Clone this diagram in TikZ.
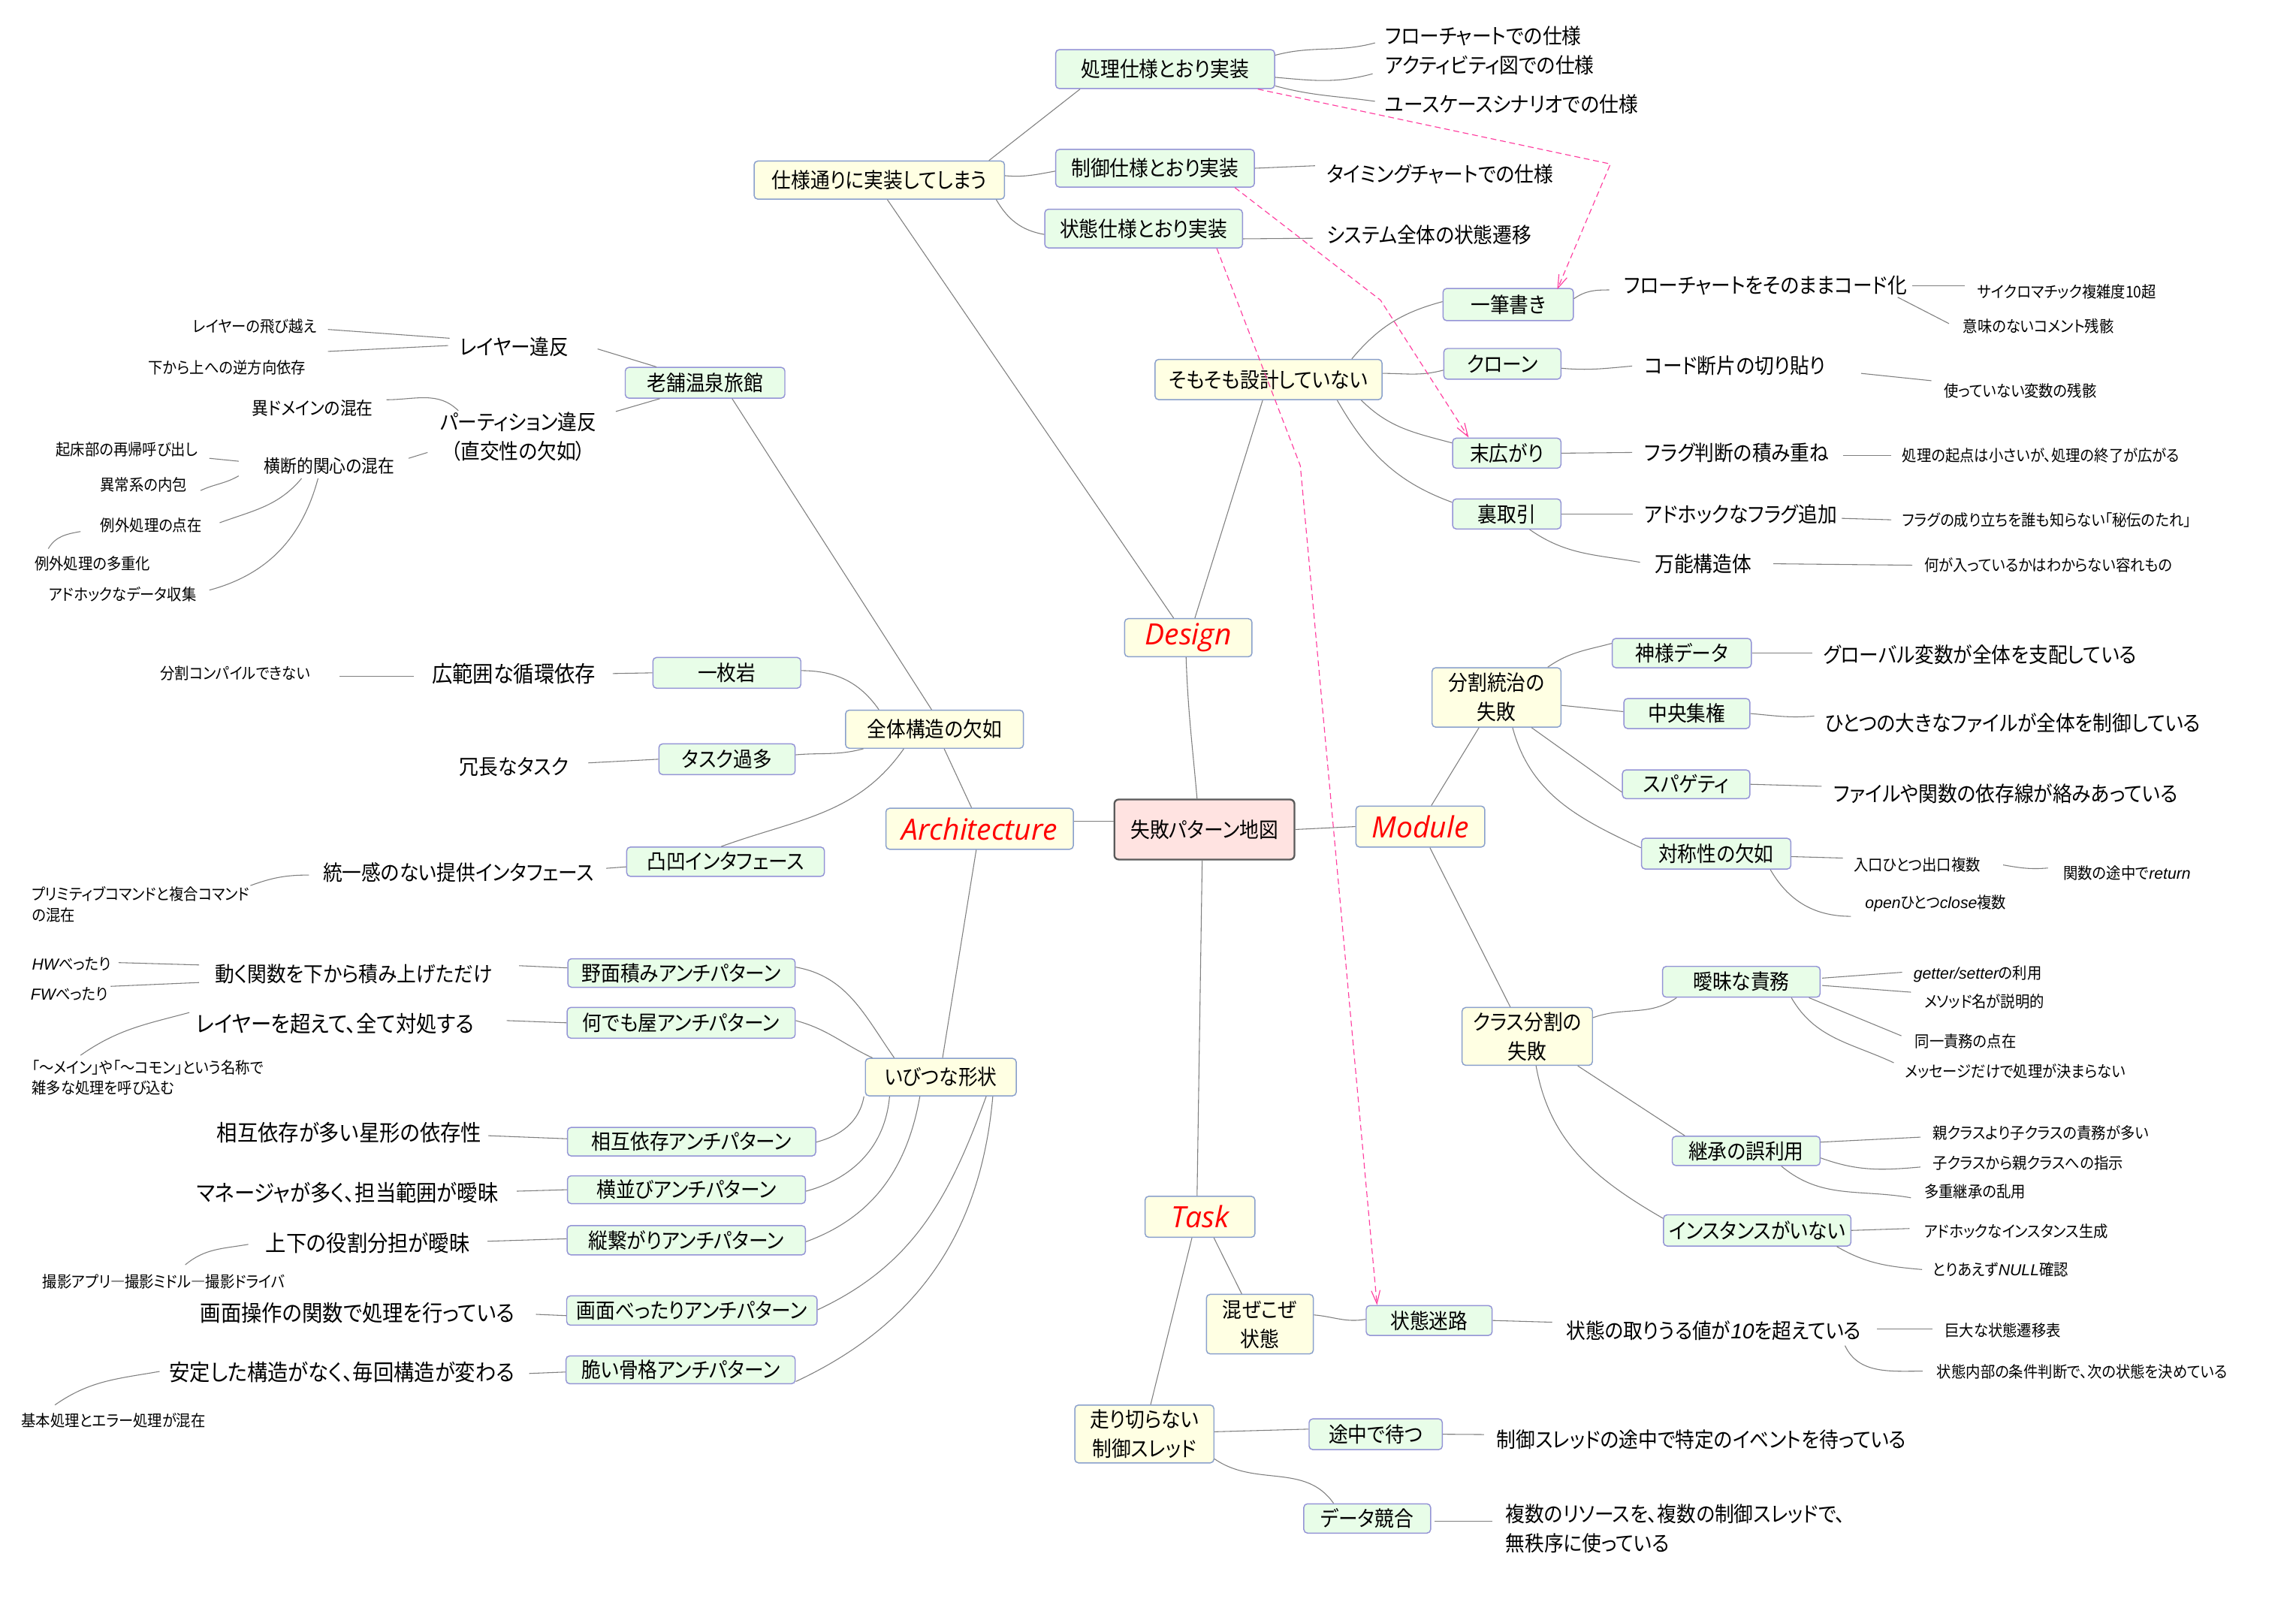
\documentclass[tikz,border=0pt]{standalone}
\usepackage{fontspec}
\setmainfont{Noto Sans CJK JP}[RawFeature=+palt, FakeStretch=0.91]
\newfontfamily\brfont{Open Sans}
\newfontfamily\latfont{Liberation Sans}
\usetikzlibrary{arrows.meta,calc}
\definecolor{gfill}{HTML}{E8FDE8}
\definecolor{gborder}{HTML}{9494D6}
\definecolor{yfill}{HTML}{FFFFE3}
\definecolor{yborder}{HTML}{8AA0CC}
\definecolor{rootfill}{HTML}{FFE3E1}
\definecolor{rootborder}{HTML}{5A5A5A}
\definecolor{linegray}{HTML}{7F7F7F}
\definecolor{pinkc}{HTML}{FF3FA0}
\newcommand\fL{\fontsize{14.5}{20}\selectfont}
\newcommand\fX{\fontsize{15.4}{20}\selectfont}
\newcommand\fM{\fontsize{12.3}{16}\selectfont}
\newcommand\fS{\fontsize{10.9}{14.2}\selectfont}
\newcommand\fB{\brfont\itshape\fontsize{20}{24}\selectfont}
\newcommand\latit[1]{{\latfont\itshape #1}}
\begin{document}
\begin{tikzpicture}[x=1pt,y=-1pt,
  conn/.style={draw=linegray, line width=0.55pt},
  wh/.style 2 args={minimum width=#1pt, minimum height=#2pt},
  gbox/.style={draw=gborder, fill=gfill, rounded corners=2.5pt, line width=0.75pt, inner sep=0pt, font=\fL, align=center},
  ybox/.style={draw=yborder, fill=yfill, rounded corners=2.5pt, line width=0.75pt, inner sep=0pt, font=\fL, align=center},
  brbox/.style={ybox, font=\fB, text=red},
  rootbox/.style={draw=rootborder, fill=rootfill, rounded corners=3pt, line width=1.2pt, inner sep=0pt, font=\fL},
  tl/.style={anchor=west, inner sep=1.5pt, font=\fL},
  tr/.style={anchor=east, inner sep=1.5pt, font=\fL},
  xr/.style={anchor=east, inner sep=1.5pt, font=\fX},
  sl/.style={anchor=west, inner sep=1.5pt, font=\fS},
  sr/.style={anchor=east, inner sep=1.5pt, font=\fS},
  mr/.style={anchor=east, inner sep=1.5pt, font=\fM},
  dep/.style={draw=pinkc, line width=0.6pt, dash pattern=on 4pt off 2.5pt, -{Straight Barb[length=9pt,width=6pt]}}
]
\fill[white] (0,0) rectangle (1568,1102);
\useasboundingbox (0,0) rectangle (1568,1102);

% ---------- boxes ----------
\node[rootbox, wh={123}{41}] (root) at (822.5,566.5) {失敗パターン地図};
\node[brbox, wh={87}{26}] (design) at (811.5,435.5) {Design};
\node[brbox, wh={128}{28}] (arch) at (669,566) {Architecture};
\node[brbox, wh={88}{28}] (mod) at (970,564.5) {Module};
\node[brbox, wh={75}{28}] (task) at (819.5,831) {Task};

\node[ybox, wh={171}{26}] (spec) at (600.5,123) {仕様通りに実装してしまう};
\node[ybox, wh={155}{27.5}] (sotomo) at (866.3,259.2) {そもそも設計していない};
\node[ybox, wh={121.5}{26}] (zentai) at (638.2,498) {全体構造の欠如};
\node[ybox, wh={103}{25.6}] (ibitsu) at (642.5,735.6) {いびつな形状};
\node[ybox, wh={88}{40.6}] (bunkatsu) at (1022,476.3) {分割統治の\\失敗};
\node[ybox, wh={89}{39.5}] (klass) at (1043,707.8) {クラス分割の\\失敗};
\node[ybox, wh={73}{40.6}] (maze) at (860.4,904.3) {混ぜこぜ\\状態};
\node[ybox, wh={95}{39.5}] (hashiri) at (781.5,979.3) {走り切らない\\制御スレッド};

\node[gbox, wh={149.5}{26.6}] (proc) at (795.7,47.2) {処理仕様とおり実装};
\node[gbox, wh={135.7}{25.7}] (ctrl) at (788.8,114.9) {制御仕様とおり実装};
\node[gbox, wh={135}{26.4}] (stat) at (781,156.1) {状態仕様とおり実装};
\node[gbox, wh={89}{22}] (hitofude) at (1030,208) {一筆書き};
\node[gbox, wh={80}{21}] (clone) at (1026,248.5) {クローン};
\node[gbox, wh={74}{20.5}] (suehiro) at (1029,309.5) {末広がり};
\node[gbox, wh={74}{20.5}] (uratori) at (1029,351) {裏取引};
\node[gbox, wh={109}{21}] (shinise) at (481.5,261.4) {老舗温泉旅館};
\node[gbox, wh={101}{21}] (ichimai) at (496.4,459.5) {一枚岩};
\node[gbox, wh={93}{21}] (taska) at (496.5,518.5) {タスク過多};
\node[gbox, wh={135}{20}] (dekoboko) at (495.5,588.5) {凸凹インタフェース};
\node[gbox, wh={155.2}{19.5}] (nozura) at (465.4,664.5) {野面積みアンチパターン};
\node[gbox, wh={155.7}{21}] (nandemo) at (465.2,698.5) {何でも屋アンチパターン};
\node[gbox, wh={169.5}{19.5}] (sougo) at (472.3,779.7) {相互依存アンチパターン};
\node[gbox, wh={162.5}{19}] (yoko) at (468.8,812.5) {横並びアンチパターン};
\node[gbox, wh={162.7}{20}] (tate) at (468.7,847) {縦繋がりアンチパターン};
\node[gbox, wh={171}{20}] (gamen) at (472.5,895) {画面べったりアンチパターン};
\node[gbox, wh={156.5}{19}] (moroi) at (464.8,935.5) {脆い骨格アンチパターン};
\node[gbox, wh={95}{20}] (kami) at (1148.5,446) {神様データ};
\node[gbox, wh={86}{20.5}] (chuo) at (1152,487.3) {中央集権};
\node[gbox, wh={87}{19.6}] (spag) at (1151.5,535.6) {スパゲティ};
\node[gbox, wh={102}{21}] (taisho) at (1172,583) {対称性の欠如};
\node[gbox, wh={107.6}{21}] (aimai) at (1189.2,670.5) {曖昧な責務};
\node[gbox, wh={101}{20}] (keisho) at (1192.5,786) {継承の誤利用};
\node[gbox, wh={128}{21.3}] (inst) at (1200,840.3) {インスタンスがいない};
\node[gbox, wh={86}{20.4}] (meiro) at (976,901.8) {状態迷路};
\node[gbox, wh={91}{21}] (tochu) at (939.5,979.5) {途中で待つ};
\node[gbox, wh={86.6}{20}] (kyogo) at (933.7,1037) {データ競合};

% ---------- texts: Design side ----------
\node[tl] (f1) at (944.2,24.7) {フローチャートでの仕様};
\node[tl] (f2) at (944.2,44.3) {アクティビティ図での仕様};
\node[tl] (f3) at (944.2,71.4) {ユースケースシナリオでの仕様};
\node[tl] (f4) at (904.3,119) {タイミングチャートでの仕様};
\node[tl] (f5) at (904.3,160.3) {システム全体の状態遷移};
\node[tl] (f6) at (1107.5,195) {フローチャートをそのままコード化};
\node[sl] (f7) at (1349,199) {サイクロマチック複雑度10超};
\node[sl] (f8) at (1339,223) {意味のないコメント残骸};
\node[tl] (f9) at (1121.5,249.6) {コード断片の切り貼り};
\node[sl] (f10) at (1326,266.7) {使っていない変数の残骸};
\node[tl] (f11) at (1121.5,309) {フラグ判断の積み重ね};
\node[sl] (f12) at (1297.5,311) {処理の起点は小さいが、処理の終了が広がる};
\node[tl] (f13) at (1121.5,351.4) {アドホックなフラグ追加};
\node[sl] (f14) at (1297.5,355) {フラグの成り立ちを誰も知らない「秘伝のたれ」};
\node[tl] (f15) at (1128.5,385) {万能構造体};
\node[sl] (f16) at (1312.5,386) {何が入っているかはわからない容れもの};

% ---------- texts: Module side ----------
\node[tl] (m1) at (1243.5,447) {グローバル変数が全体を支配している};
\node[tl] (m2) at (1244.5,494) {ひとつの大きなファイルが全体を制御している};
\node[tl] (m3) at (1250.5,542) {ファイルや関数の依存線が絡みあっている};
\node[sl] (m4) at (1264.5,590.7) {入口ひとつ出口複数};
\node[sl] (m5) at (1407.5,596) {関数の途中で\latit{return}};
\node[sl] (m6) at (1272.1,617) {\latit{open}ひとつ\latit{close}複数};
\node[sl] (m7) at (1305.1,665) {\latit{getter/setter}の利用};
\node[sl] (m8) at (1312.5,684) {メソッド名が説明的};
\node[sl] (m9) at (1306.1,711) {同一責務の点在};
\node[sl] (m10) at (1299.3,731.8) {メッセージだけで処理が決まらない};
\node[sl] (m11) at (1318.3,773.5) {親クラスより子クラスの責務が多い};
\node[sl] (m12) at (1318.3,794) {子クラスから親クラスへの指示};
\node[sl] (m13) at (1312.5,813.8) {多重継承の乱用};
\node[sl] (m14) at (1312.5,841) {アドホックなインスタンス生成};
\node[sl] (m15) at (1318.3,867) {とりあえず\latit{NULL}確認};

% ---------- texts: Task side ----------
\node[tl] (t1) at (1068,908.7) {状態の取りうる値が\latit{10}を超えている};
\node[sl] (t2) at (1326.5,908.7) {巨大な状態遷移表};
\node[sl] (t3) at (1321.1,937) {状態内部の条件判断で、次の状態を決めている};
\node[tl] (t4) at (1020.5,983) {制御スレッドの途中で特定のイベントを待っている};
\node[tl, align=left] (t5) at (1026.5,1043.8) {複数のリソースを、複数の制御スレッドで、\\無秩序に使っている};

% ---------- texts: Architecture side ----------
\node[tr] (a1) at (390.1,236.8) {レイヤー違反};
\node[sr] (a2) at (217.8,223) {レイヤーの飛び越え};
\node[sr] (a3) at (210.5,250.9) {下から上への逆方向依存};
\node[font=\fL, align=center, inner sep=1.5pt] (a4) at (354,298) {パーティション違反\\（直交性の欠如）};
\node[mr] (a5) at (256.5,278.6) {異ドメインの混在};
\node[mr] (a6) at (271.2,318) {横断的関心の混在};
\node[sr] (a7) at (136.9,306.8) {起床部の再帰呼び出し};
\node[sr] (a8) at (129.4,330.8) {異常系の内包};
\node[sr] (a9) at (139.5,359) {例外処理の点在};
\node[sr] (a10) at (104.3,384.7) {例外処理の多重化};
\node[sr] (a11) at (135.8,406) {アドホックなデータ収集};
\node[xr] (a12) at (408.5,460) {広範囲な循環依存};
\node[sr] (a13) at (213.5,460) {分割コンパイルできない};
\node[tr] (a14) at (390,524) {冗長なタスク};
\node[tr] (a15) at (407.3,596) {統一感のない提供インタフェース};
\node[sl, align=left] (a16) at (20.1,617.6) {プリミティブコマンドと複合コマンド\\の混在};
\node[tr] (a17) at (338,665) {動く関数を下から積み上げただけ};
\node[sl] (a18) at (20.1,658.5) {\latit{HW}べったり};
\node[sl] (a19) at (19.3,678.7) {\latit{FW}べったり};
\node[xr] (a20) at (325.3,699) {レイヤーを超えて、全て対処する};
\node[sl, align=left] (a21) at (20.1,735.9) {「～メイン」や「～コモン」という名称で\\雑多な処理を呼び込む};
\node[xr] (a22) at (330.5,773.6) {相互依存が多い星形の依存性};
\node[xr] (a23) at (342,814.6) {マネージャが多く、担当範囲が曖昧};
\node[xr] (a24) at (322.5,849) {上下の役割分担が曖昧};
\node[sl] (a25) at (27.5,875.4) {撮影アプリ―撮影ミドル―撮影ドライバ};
\node[xr] (a26) at (353.2,896.7) {画面操作の関数で処理を行っている};
\node[xr] (a27) at (353.2,937) {安定した構造がなく、毎回構造が変わる};
\node[sl] (a28) at (13,970) {基本処理とエラー処理が混在};

% ---------- connectors: root ----------
\draw[conn] ([shift={(-1.5,0)}]design.south) to[out=-88,in=95] ([shift={(-5,0)}]root.north);
\draw[conn] ([shift={(0,-5.5)}]root.west) -- ([shift={(0,-5)}]arch.east);
\draw[conn] (root.east) -- (mod.west);
\draw[conn] ([shift={(-1.5,0)}]root.south) -- ([shift={(-2,0)}]task.north);

% ---------- Design ----------
\draw[conn] ([shift={(-10,0)}]design.north) -- ([shift={(5.5,0)}]spec.south);
\draw[conn] ([shift={(4.5,0)}]design.north) -- ([shift={(-4,0)}]sotomo.south);
\draw[conn] ([shift={(-11,0)}]spec.north east) -- ([shift={(17,0)}]proc.south west);
\draw[conn] ([shift={(0,-3)}]spec.east) to[out=-5,in=190] ([shift={(0,2)}]ctrl.west);
\draw[conn] ([shift={(-6,0)}]spec.south east) to[out=-60,in=170] ([shift={(0,4)}]stat.west);
\draw[conn] ([shift={(0,4.2)}]proc.north east) to[out=15,in=195] ([shift={(-5.2,4.6)}]f1.west);
\draw[conn] ([shift={(0,5.6)}]proc.east) to[out=-5,in=195] ([shift={(-6.8,6.1)}]f2.west);
\draw[conn] ([shift={(0,-2.2)}]proc.south east) to[out=-15,in=172] ([shift={(-5.2,-2.2)}]f3.west);
\draw[conn] (ctrl.east) -- ([shift={(-6.3,-5.8)}]f4.west);
\draw[conn] ([shift={(0,7)}]stat.east) -- ([shift={(-7.7,2.4)}]f5.west);
\draw[conn] ([shift={(-21,0)}]sotomo.north east) to[out=50,in=195] ([shift={(0,-2)}]hitofude.west);
\draw[conn] ([shift={(0,-4.2)}]sotomo.east) to[out=0,in=195] ([shift={(0,4.3)}]clone.west);
\draw[conn] ([shift={(-14.5,0)}]sotomo.south east) to[out=-45,in=165] ([shift={(0,-7)}]suehiro.west);
\draw[conn] ([shift={(-31,0)}]sotomo.south east) to[out=-60,in=160] ([shift={(0,-8)}]uratori.west);
\draw[conn] ([shift={(0,-4)}]hitofude.east) to[out=35,in=180] ([shift={(-8.5,3)}]f6.west);
\draw[conn] ([shift={(198.5,0)}]f6.west) -- ([shift={(-7,-4)}]f7.west);
\draw[conn] ([shift={(188.5,8)}]f6.west) -- ([shift={(-8,-2)}]f8.west);
\draw[conn] ([shift={(0,3)}]clone.east) to[out=-5,in=185] ([shift={(-6.9,0.4)}]f9.west);
\draw[conn] ([shift={(149.5,5.4)}]f9.west) -- ([shift={(-7,-6.7)}]f10.west);
\draw[conn] (suehiro.east) -- ([shift={(-6.9,0)}]f11.west);
\draw[conn] ([shift={(137,2)}]f11.west) -- ([shift={(-5.9,0)}]f12.west);
\draw[conn] (uratori.east) -- ([shift={(-6.5,-0.4)}]f13.west);
\draw[conn] ([shift={(136.2,2.6)}]f13.west) -- ([shift={(-5.9,0)}]f14.west);
\draw[conn] ([shift={(15.6,0)}]uratori.south) to[out=-35,in=170] ([shift={(-8.5,-1)}]f15.west);
\draw[conn] ([shift={(82.5,0)}]f15.west) -- ([shift={(-6.5,0)}]f16.west);

% ---------- Architecture ----------
\draw[conn] ([shift={(6.6,0)}]zentai.south) -- ([shift={(-5.5,0)}]arch.north);
\draw[conn] ([shift={(18.5,0)}]shinise.south) -- ([shift={(-2,0)}]zentai.north);
\draw[conn] ([shift={(0,-1.5)}]ichimai.east) to[out=0,in=125] ([shift={(-38,0)}]zentai.north);
\draw[conn] ([shift={(0,-3)}]taska.east) to[out=5,in=195] ([shift={(12.5,0)}]zentai.south west);
\draw[conn] ([shift={(-21,0)}]zentai.south) to[out=-125,in=20] ([shift={(-3,0)}]dekoboko.north);
\draw[conn] ([shift={(-2.3,0)}]arch.south) -- ([shift={(1.2,0)}]ibitsu.north);

\draw[conn] ([shift={(18,1.5)}]a1.east) -- ([shift={(21.6,0)}]shinise.north west);
\draw[conn] ([shift={(66.6,-17)}]a4.center) -- ([shift={(24,0)}]shinise.south west);
\draw[conn] ([shift={(-83.1,-5.8)}]a1.east) -- ([shift={(6.2,2)}]a2.east);
\draw[conn] ([shift={(-84.1,-0.8)}]a1.east) -- ([shift={(13.5,-10.9)}]a3.east);
\draw[conn] ([shift={(7.5,-5.6)}]a5.east) to[out=0,in=135] ([shift={(-41,-17.5)}]a4.center);
\draw[conn] ([shift={(7.8,-5)}]a6.east) -- ([shift={(-62,11)}]a4.center);
\draw[conn] ([shift={(6.1,6.2)}]a7.east) -- ([shift={(-108.2,-3)}]a6.east);
\draw[conn] ([shift={(7.6,4.2)}]a8.east) to[out=25,in=210] ([shift={(-108.2,7)}]a6.east);
\draw[conn] ([shift={(10.5,-2)}]a9.east) to[out=20,in=-130] ([shift={(-65.2,8.7)}]a6.east);
\draw[conn] ([shift={(7.2,-3)}]a11.east) to[out=15,in=-105] ([shift={(-54,8.7)}]a6.east);
\draw[conn] ([shift={(-84.5,4)}]a9.east) to[out=190,in=60] ([shift={(-71.3,-10)}]a10.east);

\draw[conn] (ichimai.west) -- ([shift={(10,0)}]a12.east);
\draw[conn] ([shift={(-125.8,2)}]a12.east) -- ([shift={(18.1,2)}]a13.east);
\draw[conn] (taska.west) -- ([shift={(11.8,-3)}]a14.east);
\draw[conn] ([shift={(0,3.5)}]dekoboko.west) -- ([shift={(6.7,-3)}]a15.east);
\draw[conn] ([shift={(-196.3,1.6)}]a15.east) to[out=180,in=20] ([shift={(150.9,-12.8)}]a16.west);

\draw[conn] ([shift={(0,-4)}]nozura.east) to[out=-10,in=125] ([shift={(-31.8,0)}]ibitsu.north);
\draw[conn] ([shift={(0,-1.5)}]nandemo.east) to[out=-15,in=155] ([shift={(-46.7,0)}]ibitsu.north);
\draw[conn] ([shift={(-52.5,0)}]ibitsu.south) to[out=-100,in=15] ([shift={(0,0.3)}]sougo.east);
\draw[conn] ([shift={(-35,0)}]ibitsu.south) to[out=-95,in=15] ([shift={(0,1)}]yoko.east);
\draw[conn] ([shift={(-14.3,0)}]ibitsu.south) to[out=-100,in=20] ([shift={(0,1)}]tate.east);
\draw[conn] ([shift={(31,0)}]ibitsu.south) to[out=-110,in=25] ([shift={(0,-0.5)}]gamen.east);
\draw[conn] ([shift={(35.5,0)}]ibitsu.south) to[out=-95,in=25] ([shift={(0,8)}]moroi.east);

\draw[conn] ([shift={(0,-3.5)}]nozura.west) -- ([shift={(16.5,-5.5)}]a17.east);
\draw[conn] ([shift={(-202,-6)}]a17.east) -- ([shift={(60.9,-1.1)}]a18.west);
\draw[conn] ([shift={(-202,6)}]a17.east) -- ([shift={(56.3,-5.1)}]a19.west);
\draw[conn] (nandemo.west) -- ([shift={(20.7,-2)}]a20.east);
\draw[conn] ([shift={(-196,-7.5)}]a20.east) to[out=195,in=35] ([shift={(34.9,-15.2)}]a21.west);
\draw[conn] ([shift={(0,-2)}]sougo.west) -- ([shift={(3,2)}]a22.east);
\draw[conn] (yoko.west) -- ([shift={(11,-1.1)}]a23.east);
\draw[conn] ([shift={(0,-1)}]tate.west) -- ([shift={(10.5,-1.3)}]a24.east);
\draw[conn] ([shift={(-152.9,0.8)}]a24.east) to[out=190,in=40] ([shift={(99,-11.6)}]a25.west);
\draw[conn] ([shift={(0,3.5)}]gamen.west) -- ([shift={(12.8,0.9)}]a26.east);
\draw[conn] ([shift={(0,1.5)}]moroi.west) -- ([shift={(8.2,1)}]a27.east);
\draw[conn] ([shift={(-244.2,-0.4)}]a27.east) to[out=190,in=35] ([shift={(24.5,-10.5)}]a28.west);

% ---------- Module ----------
\draw[conn] ([shift={(7.5,0)}]mod.north) -- ([shift={(-12,0)}]bunkatsu.south);
\draw[conn] ([shift={(6.5,0)}]mod.south) -- ([shift={(-11.6,0)}]klass.north);
\draw[conn] ([shift={(35,0)}]bunkatsu.north) to[out=35,in=195] ([shift={(0,-6.6)}]kami.west);
\draw[conn] ([shift={(0,5.4)}]bunkatsu.east) -- ([shift={(0,-1.3)}]chuo.west);
\draw[conn] ([shift={(24,0)}]bunkatsu.south) -- ([shift={(0,5.4)}]spag.west);
\draw[conn] ([shift={(11,0)}]bunkatsu.south) to[out=-75,in=155] ([shift={(0,-4)}]taisho.west);
\draw[conn] (kami.east) -- ([shift={(-5.9,-1)}]m1.west);
\draw[conn] (chuo.east) to[out=-5,in=185] ([shift={(-5.5,-5)}]m2.west);
\draw[conn] (spag.east) -- ([shift={(-6.5,-5)}]m3.west);
\draw[conn] ([shift={(0,2)}]taisho.east) -- ([shift={(-6,-4.7)}]m4.west);
\draw[conn] ([shift={(103.5,0)}]m4.west) to[out=-10,in=185] ([shift={(-9,-3.2)}]m5.west);
\draw[conn] ([shift={(37,0)}]taisho.south) to[out=-60,in=180] ([shift={(-8.1,8.8)}]m6.west);
\draw[conn] ([shift={(0,-12.8)}]klass.east) to[out=20,in=-145] ([shift={(-44.2,0)}]aimai.south);
\draw[conn] ([shift={(34.5,0)}]klass.south) -- ([shift={(-41.9,0)}]keisho.north);
\draw[conn] ([shift={(6,0)}]klass.south) to[out=-80,in=150] ([shift={(0,-8.3)}]inst.west);
\draw[conn] ([shift={(1,-2.5)}]aimai.east) -- ([shift={(-6.1,-1)}]m7.west);
\draw[conn] ([shift={(1,2.5)}]aimai.east) -- ([shift={(-7.5,-6.4)}]m8.west);
\draw[conn] ([shift={(-8,0)}]aimai.south east) -- ([shift={(-7.6,-3.6)}]m9.west);
\draw[conn] ([shift={(-20,0)}]aimai.south east) to[out=-60,in=155] ([shift={(-6,-6)}]m10.west);
\draw[conn] ([shift={(0,-6)}]keisho.east) -- ([shift={(-6.7,3.1)}]m11.west);
\draw[conn] ([shift={(0,4.8)}]keisho.east) to[out=-20,in=185] ([shift={(-6.7,3)}]m12.west);
\draw[conn] ([shift={(24,0)}]keisho.south) to[out=-40,in=170] ([shift={(-7.5,4.2)}]m13.west);
\draw[conn] (inst.east) -- ([shift={(-8.5,-2)}]m14.west);
\draw[conn] ([shift={(-10,0)}]inst.south east) to[out=-30,in=175] ([shift={(-5.7,0)}]m15.west);

% ---------- Task ----------
\draw[conn] ([shift={(9.5,0)}]task.south) -- ([shift={(-12.4,0)}]maze.north);
\draw[conn] ([shift={(-5.5,0)}]task.south) -- ([shift={(4.3,0)}]hashiri.north);
\draw[conn] ([shift={(0,-6.3)}]maze.east) to[out=-5,in=190] ([shift={(0,-0.8)}]meiro.west);
\draw[conn] (meiro.east) -- ([shift={(-8,-5.7)}]t1.west);
\draw[conn] ([shift={(213.8,-1.2)}]t1.west) -- ([shift={(-6.7,-1.2)}]t2.west);
\draw[conn] ([shift={(192,10.3)}]t1.west) to[out=-65,in=180] ([shift={(-8.1,-0.6)}]t3.west);
\draw[conn] ([shift={(0,-1.5)}]hashiri.east) -- ([shift={(0,-3.5)}]tochu.west);
\draw[conn] (tochu.east) -- ([shift={(-7,-3.3)}]t4.west);
\draw[conn] ([shift={(0,17)}]hashiri.east) to[out=-35,in=125] ([shift={(-23,0)}]kyogo.north);
\draw[conn] ([shift={(2.4,2)}]kyogo.east) -- ([shift={(-7.5,-4.8)}]t5.west);

% ---------- dashed dependency arrows ----------
\coordinate (b1) at (1099.8,112);
\coordinate (b2) at (942.8,205);
\coordinate (b3) at (888,318);
\draw[dep] ([shift={(-11.8,0)}]proc.south east) -- (b1) -- ([shift={(33.5,1)}]hitofude.north);
\draw[dep] ([shift={(54.5,0)}]ctrl.south) -- (b2) -- ([shift={(-26,0)}]suehiro.north);
\draw[dep] ([shift={(50,0)}]stat.south) -- (b3) -- ([shift={(-35.6,0)}]meiro.north);
\end{tikzpicture}
\end{document}
